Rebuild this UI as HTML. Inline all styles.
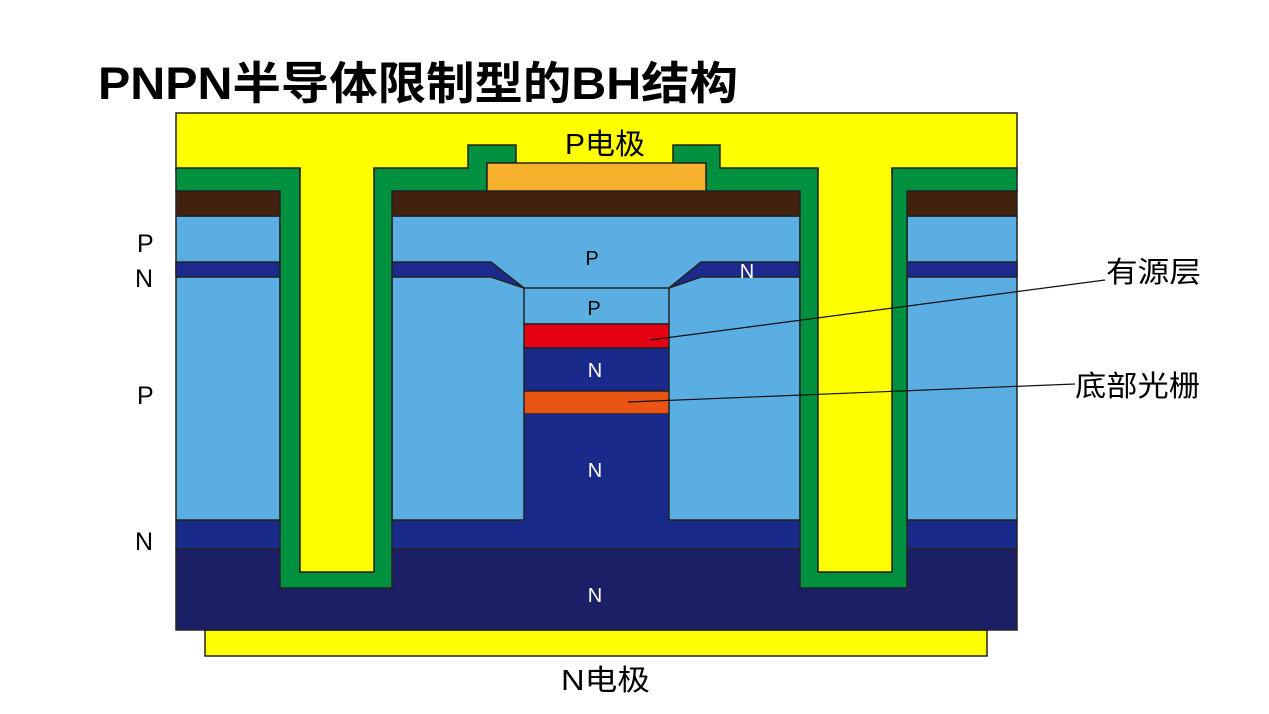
<!DOCTYPE html>
<html><head><meta charset="utf-8"><style>
body{margin:0;background:#fff;width:1269px;height:714px;overflow:hidden}
svg{display:block}
text{font-family:"Liberation Sans","Noto Sans CJK SC",sans-serif}
</style></head><body>
<svg width="1269" height="714" viewBox="0 0 1269 714">
<text x="98" y="99" font-size="45" font-weight="bold" fill="#000" textLength="640" lengthAdjust="spacingAndGlyphs">PNPN半导体限制型的BH结构</text>
<g stroke="#222" stroke-width="1.5">
<rect x="205" y="630" width="782" height="26" fill="#ffff00"/>
<rect x="176" y="113" width="841" height="60" fill="#ffff00"/>
<rect x="176" y="549" width="841" height="81" fill="#1b2066"/>
<rect x="176" y="520" width="841" height="29" fill="#1a2a8a"/>
<rect x="176" y="216" width="104" height="304" fill="#5aaee2"/>
<rect x="392" y="216" width="408" height="304" fill="#5aaee2"/>
<rect x="907" y="216" width="110" height="304" fill="#5aaee2"/>
<rect x="176" y="262" width="104" height="15" fill="#1b2a8c"/>
<rect x="907" y="262" width="110" height="15" fill="#1b2a8c"/>
<polygon points="392,262 491,262 524,288 491,277 392,277" fill="#1b2a8c"/>
<polygon points="800,262 701,262 669,288 701,277 800,277" fill="#1b2a8c"/>
<rect x="524" y="288" width="145" height="36" fill="#5aaee2"/>
<rect x="524" y="324" width="145" height="24" fill="#e60012"/>
<rect x="524" y="348" width="145" height="43" fill="#1a2a8a"/>
<rect x="524" y="391" width="145" height="23" fill="#ea5514"/>
<rect x="524" y="414" width="145" height="107" fill="#1a2a8a" stroke="none"/>
<line x1="524" y1="414" x2="524" y2="520"/><line x1="669" y1="414" x2="669" y2="520"/>
<rect x="176" y="191" width="104" height="25" fill="#42220f"/>
<rect x="392" y="191" width="408" height="25" fill="#42220f"/>
<rect x="907" y="191" width="110" height="25" fill="#42220f"/>
<path d="M176,168 H300 V572 H374 V168 H468 V145 H516 V163 H487 V191 H392 V588 H280 V191 H176 Z" fill="#009140"/>
<path d="M706,163 H673 V145 H720 V168 H818 V572 H892 V168 H1017 V191 H907 V588 H800 V191 H706 Z" fill="#009140"/>
<rect x="300" y="172" width="74" height="400" fill="#ffff00" stroke="none"/>
<rect x="818" y="172" width="74" height="400" fill="#ffff00" stroke="none"/>
<line x1="300" y1="168" x2="300" y2="572"/><line x1="374" y1="168" x2="374" y2="572"/><line x1="300" y1="572" x2="374" y2="572"/>
<line x1="818" y1="168" x2="818" y2="572"/><line x1="892" y1="168" x2="892" y2="572"/><line x1="818" y1="572" x2="892" y2="572"/>
<rect x="487" y="163" width="219" height="28" fill="#f8b12c"/>
</g>
<g stroke="#111" stroke-width="1.2">
<line x1="1105" y1="280" x2="650" y2="340"/>
<line x1="1075" y1="384" x2="628" y2="402"/>
</g>
<g font-size="25" fill="#000">
<text x="137" y="252">P</text>
<text x="135" y="287">N</text>
<text x="137" y="404">P</text>
<text x="135" y="550">N</text>
<text x="565" y="154" font-size="29" textLength="80" lengthAdjust="spacingAndGlyphs">P电极</text>
<text x="561" y="690" font-size="29" textLength="89" lengthAdjust="spacingAndGlyphs">N电极</text>
<text x="1106" y="282" font-size="29" textLength="95" lengthAdjust="spacingAndGlyphs">有源层</text>
<text x="1075" y="396" font-size="29" textLength="125" lengthAdjust="spacingAndGlyphs">底部光栅</text>
</g>
<g font-size="20" text-anchor="middle">
<text x="592" y="265" fill="#000">P</text>
<text x="594" y="315" fill="#000">P</text>
<text x="595" y="377" fill="#fff">N</text>
<text x="595" y="477" fill="#fff">N</text>
<text x="595" y="602" fill="#fff">N</text>
<text x="747" y="278" fill="#fff">N</text>
</g>
</svg>
</body></html>
